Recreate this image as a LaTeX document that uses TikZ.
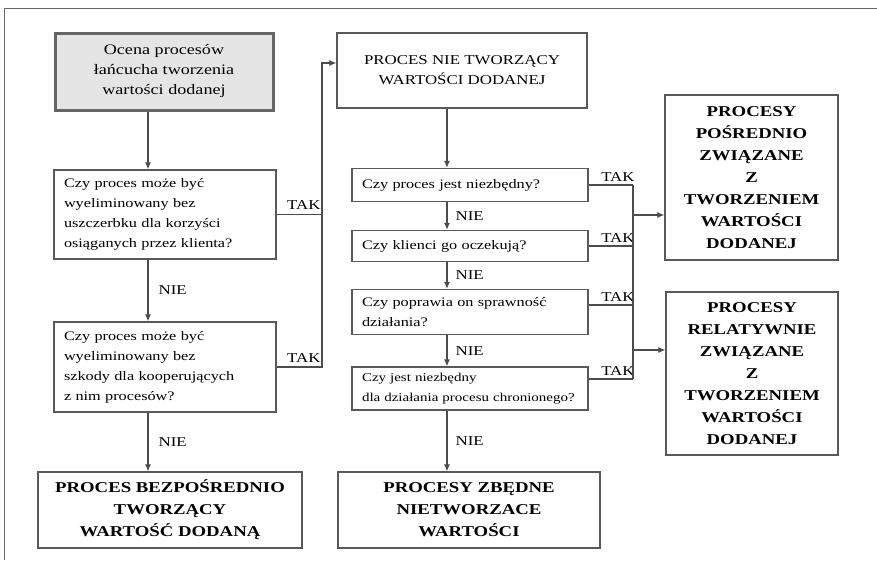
\documentclass[tikz,border=0pt]{standalone}
\usepackage{fontspec}
\setmainfont{Liberation Serif}[FakeStretch=1.25]
\usetikzlibrary{arrows.meta, positioning}

\begin{document}
\begin{tikzpicture}[x=1pt, y=-1pt, >={Latex[length=7pt,width=6pt]},
    box/.style={draw=black!65, line width=1.3pt, rectangle, inner sep=0pt},
    question/.style={box, align=left, inner xsep=10pt, font=\fontsize{13}{20}\selectfont},
    result/.style={box, align=center, font=\fontsize{15}{22}\selectfont\bfseries},
    answer/.style={font=\fontsize{13.5}{16}\selectfont, inner sep=2pt},
    link/.style={draw=black!70, line width=1.2pt}]
    \useasboundingbox (0,0) rectangle (877,562);
    \draw[black!60, line width=0.8pt] (4,560) -- (4,8) -- (877,8);

    % Left column
    \node [box, fill=black!10, draw=black!60, line width=3pt, align=center, minimum width=218, minimum height=77,
           font=\fontsize{14.5}{20}\selectfont] (ocena) at (164,71.5) {Ocena procesów\\łańcucha tworzenia\\wartości dodanej};
    \node [question, text width=202, minimum height=89] (q1) at (165,214.5)
        {Czy proces może być\\wyeliminowany bez\\uszczerbku dla korzyści\\osiąganych przez klienta?};
    \node [question, text width=202, minimum height=90] (q2) at (165,367)
        {Czy proces może być\\wyeliminowany bez\\szkody dla kooperujących\\ z nim procesów?};
    \node [result, minimum width=264, minimum height=76] (bezp) at (170,510)
        {PROCES BEZPOŚREDNIO\\TWORZĄCY\\WARTOŚĆ DODANĄ};

    % Middle column
    \node [box, align=center, minimum width=250, minimum height=75, font=\fontsize{13.5}{20}\selectfont] (niet) at (462,70.5)
        {PROCES NIE TWORZĄCY\\WARTOŚCI DODANEJ};
    \node [question, text width=216, minimum height=33] (q3) at (470,185) {Czy proces jest niezbędny?};
    \node [question, text width=216, minimum height=31] (q4) at (470,246) {Czy klienci go oczekują?};
    \node [question, text width=216, minimum height=45] (q5) at (470,312) {Czy poprawia on sprawność\\działania?};
    \node [question, text width=216, minimum height=43, font=\fontsize{12}{20}\selectfont] (q6) at (470,388.5)
        {Czy jest niezbędny\\dla działania procesu chronionego?};
    \node [result, minimum width=262, minimum height=76] (zbedne) at (469,510)
        {PROCESY ZBĘDNE\\NIETWORZACE\\WARTOŚCI};

    % Right column
    \node [result, minimum width=173, minimum height=165] (posr) at (751.5,177.5)
        {PROCESY\\POŚREDNIO\\ZWIĄZANE\\Z\\TWORZENIEM\\WARTOŚCI\\DODANEJ};
    \node [result, minimum width=172, minimum height=163] (relat) at (752,373.5)
        {PROCESY\\RELATYWNIE\\ZWIĄZANE\\Z\\TWORZENIEM\\WARTOŚCI\\DODANEJ};

    % Helper points
    \coordinate (spineL) at (148,0);
    \coordinate (spineR) at (447,0);
    \coordinate (busL) at (322,63);
    \coordinate (busR) at (633,0);
    \coordinate (t5) at ([yshift=7pt]q5.east);
    \coordinate (t6) at ([yshift=9.5pt]q6.east);
    \coordinate (branch1) at (633,215);
    \coordinate (branch2) at (633,350);

    % Left flow
    \draw[link,->] (ocena.south -| spineL) -- (q1.north -| spineL);
    \draw[link,->] (q1.south -| spineL) -- node[answer, right=8pt] {NIE} (q2.north -| spineL);
    \draw[link,->] (q2.south -| spineL) -- node[answer, right=8pt] {NIE} (bezp.north -| spineL);
    \draw[link] (q1.east) -- node[answer, above=2pt, pos=0.6] {TAK} (q1.east -| busL);
    \draw[link,->] (q2.east) -- node[answer, above=2pt, pos=0.6] {TAK} (q2.east -| busL) -- (busL) -- (niet.west |- busL);

    % Middle flow
    \draw[link,->] (niet.south -| spineR) -- (q3.north -| spineR);
    \draw[link,->] (q3.south -| spineR) -- node[answer, right=6pt] {NIE} (q4.north -| spineR);
    \draw[link,->] (q4.south -| spineR) -- node[answer, right=6pt] {NIE} (q5.north -| spineR);
    \draw[link,->] (q5.south -| spineR) -- node[answer, right=6pt] {NIE} (q6.north -| spineR);
    \draw[link,->] (q6.south -| spineR) -- node[answer, right=6pt] {NIE} (zbedne.north -| spineR);

    % TAK answers to the right
    \draw[link] (q3.east) -- node[answer, above=1pt, pos=0.66] {TAK} (q3.east -| busR);
    \draw[link] (q4.east) -- node[answer, above=1pt, pos=0.66] {TAK} (q4.east -| busR);
    \draw[link] (t5) -- node[answer, above=1pt, pos=0.66] {TAK} (t5 -| busR);
    \draw[link] (t6) -- node[answer, above=1pt, pos=0.66] {TAK} (t6 -| busR);
    \draw[link] (q3.east -| busR) -- (t6 -| busR);
    \draw[link,->] (branch1) -- (branch1 -| posr.west);
    \draw[link,->] (branch2) -- (branch2 -| relat.west);
\end{tikzpicture}
\end{document}
